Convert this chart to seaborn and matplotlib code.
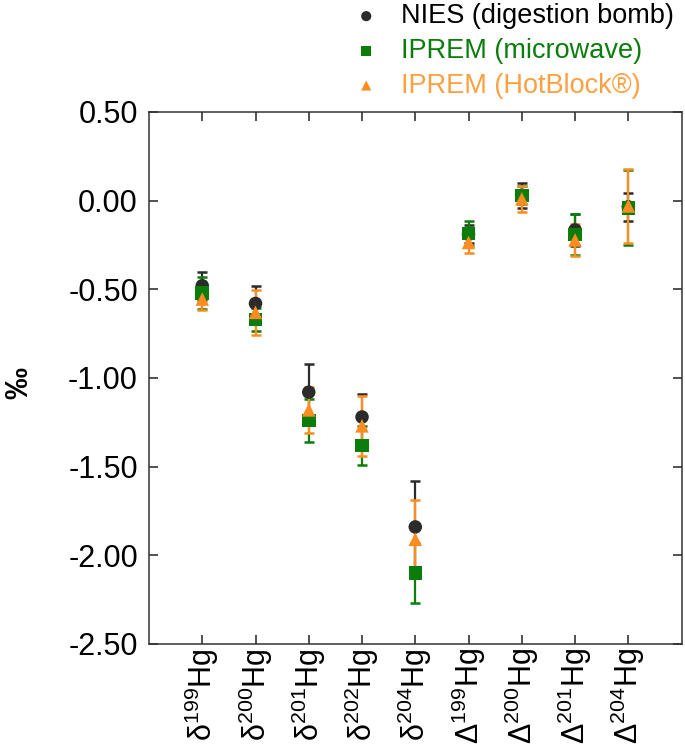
import numpy as np
import pandas as pd
import seaborn as sns
import matplotlib
matplotlib.use("Agg")
import matplotlib.pyplot as plt

# isotope ratios (categories on x)
categories = [r"$\delta^{199}$Hg", r"$\delta^{200}$Hg", r"$\delta^{201}$Hg",
              r"$\delta^{202}$Hg", r"$\delta^{204}$Hg", r"$\Delta^{199}$Hg",
              r"$\Delta^{200}$Hg", r"$\Delta^{201}$Hg", r"$\Delta^{204}$Hg"]

# NIES (digestion bomb)
nies_val = [-0.48, -0.58, -1.08, -1.22, -1.84, -0.19, 0.03, -0.165, -0.035]
nies_err = [0.08, 0.10, 0.16, 0.13, 0.26, 0.05, 0.07, 0.09, 0.08]
# IPREM (microwave)
mw_val = [-0.52, -0.67, -1.24, -1.38, -2.10, -0.185, 0.03, -0.19, -0.04]
mw_err = [0.09, 0.065, 0.12, 0.11, 0.17, 0.072, 0.05, 0.115, 0.21]
# IPREM (HotBlock)
hb_val = [-0.555, -0.63, -1.18, -1.27, -1.91, -0.236, 0.01, -0.222, -0.03]
hb_err = [0.06, 0.125, 0.13, 0.17, 0.22, 0.06, 0.075, 0.09, 0.21]

series = ["NIES (digestion bomb)", "IPREM (microwave)", "IPREM (HotBlock®)"]
colors = ["#2b2b2b", "#0b7d0b", "#ff8c21"]
text_colors = ["#000000", "#0b7d0b", "#ffa040"]
markers = ["o", "s", "^"]

sns.set_style("ticks")
plt.rcParams["font.family"] = ["Liberation Sans", "DejaVu Sans"]
plt.rcParams["mathtext.fontset"] = "custom"
plt.rcParams["mathtext.rm"] = "Liberation Sans"
plt.rcParams["mathtext.it"] = "Liberation Sans"
plt.rcParams["mathtext.default"] = "regular"
plt.rcParams["axes.unicode_minus"] = False
plt.rcParams["text.color"] = "black"
plt.rcParams["xtick.color"] = "black"
plt.rcParams["ytick.color"] = "black"
plt.rcParams["axes.labelcolor"] = "black"

df = pd.concat([
    pd.DataFrame({"cat": categories, "val": v, "err": e, "src": s})
    for v, e, s in zip([nies_val, mw_val, hb_val], [nies_err, mw_err, hb_err], series)
])
df["x"] = np.tile(np.arange(len(categories)), 3)

fig = plt.figure(figsize=(6.85, 7.54), dpi=100)
ax = fig.add_axes([0.2175, 0.1459, 0.7775, 0.7056])

for s, c, m in zip(series, colors, markers):
    d = df[df.src == s]
    ax.errorbar(d.x, d.val, yerr=d.err, fmt="none", ecolor=c,
                elinewidth=1.6, capsize=3.5, capthick=1.8, zorder=2)
    sns.scatterplot(data=d, x="x", y="val", color=c, marker=m, s=95,
                    edgecolor="none", ax=ax, label=s, zorder=3)

ax.set_xlim(-1, len(categories))
ax.set_ylim(-2.5, 0.5)
ax.set_xticks(range(len(categories)))
ax.set_xticklabels(categories, rotation=90, fontsize=22)
yticks = [0.5, 0.0, -0.5, -1.0, -1.5, -2.0, -2.5]
ax.set_yticks(yticks)
ax.set_yticklabels([f"{t:.2f}" for t in yticks], fontsize=22)
ax.tick_params(direction="in", top=True, right=True, length=6.5, width=1.1,
               color="#222222")
ax.tick_params(axis="y", pad=8)
ax.tick_params(axis="x", pad=3)
for sp in ax.spines.values():
    sp.set_linewidth(1.1)
    sp.set_color("#333333")
ax.set_xlabel("")
ax.set_ylabel("‰", fontsize=23, fontweight="bold")
ax.yaxis.set_label_coords(-0.215, 0.49)

handles, labels = ax.get_legend_handles_labels()
ax.get_legend().remove()
leg = fig.legend(handles, labels, loc="upper right", bbox_to_anchor=(1.02, 1.028),
                 frameon=False, fontsize=19.5, handlelength=0.6,
                 handletextpad=1.0, labelspacing=0.32, markerscale=0.75)
for t, c in zip(leg.get_texts(), text_colors):
    t.set_color(c)

fig.savefig("out.png", dpi=100)
